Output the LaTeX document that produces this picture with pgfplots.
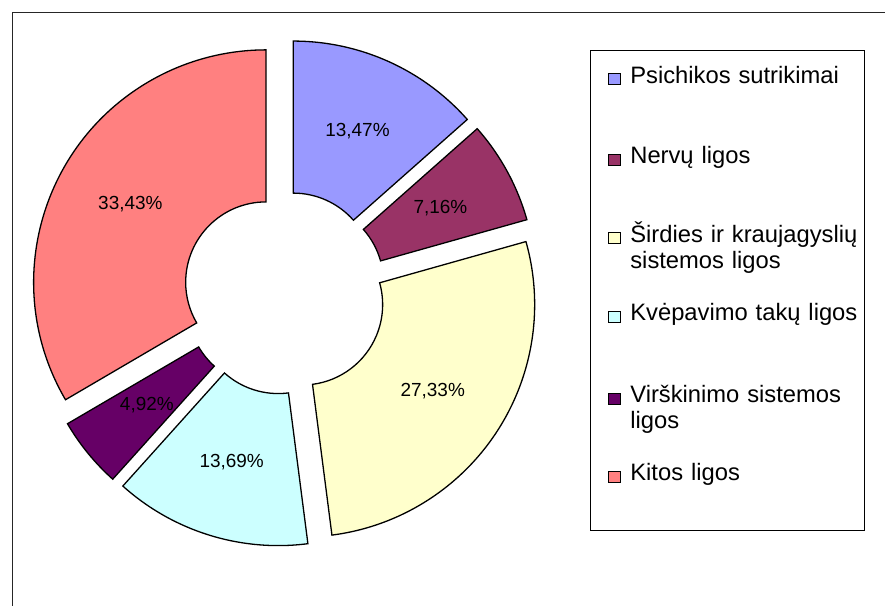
\documentclass[border=0pt]{standalone}
\usepackage{pgfplots}
\pgfplotsset{compat=1.18}
\usepackage{pgfplotstable}
\usepackage{fontspec}
\setmainfont{Liberation Sans}
\definecolor{cA}{HTML}{9999FF}
\definecolor{cB}{HTML}{993366}
\definecolor{cC}{HTML}{FFFFCC}
\definecolor{cD}{HTML}{CCFFFF}
\definecolor{cE}{HTML}{660066}
\definecolor{cF}{HTML}{FF8080}
\pgfplotstableread[col sep=comma]{
value,color
13.47,cA
7.16,cB
27.33,cC
13.69,cD
4.92,cE
33.43,cF
}\piedata
\begin{document}
\begin{tikzpicture}
\begin{axis}[x=1pt,y=1pt,xmin=0,xmax=885,ymin=0,ymax=607,scale only axis,hide axis,clip=false]
\pgfplotsextra{
  \fill[white] (axis cs:0,0) rectangle (axis cs:885,607);
  \draw[black!85, line width=0.9pt] (axis cs:10.5,0) -- (axis cs:10.5,595) -- (axis cs:885,595);
  \gdef\cumA{0}
  \foreach \i in {0,...,5}{
    \pgfplotstablegetelem{\i}{value}\of\piedata \let\v\pgfplotsretval
    \pgfplotstablegetelem{\i}{color}\of\piedata \let\col\pgfplotsretval
    \pgfmathsetmacro{\aone}{90-3.6*\cumA}
    \pgfmathsetmacro{\atwo}{90-3.6*(\cumA+\v)}
    \pgfmathsetmacro{\amid}{(\aone+\atwo)/2}
    \pgfmathsetmacro{\ccx}{283.5+21.3*cos(\amid)}
    \pgfmathsetmacro{\ccy}{313.4+21.3*sin(\amid)}
    \pgfmathsetmacro{\xo}{\ccx+233*cos(\aone)}
    \pgfmathsetmacro{\yo}{\ccy+233*sin(\aone)}
    \pgfmathsetmacro{\xin}{\ccx+80.6*cos(\atwo)}
    \pgfmathsetmacro{\yin}{\ccy+80.6*sin(\atwo)}
    \pgfmathsetmacro{\xl}{\ccx+156.8*cos(\amid)}
    \pgfmathsetmacro{\yl}{\ccy+156.8*sin(\amid)}
    \filldraw[fill=\col, draw=black, line width=1.3pt, line join=miter]
      (axis cs:\xo,\yo) arc[start angle=\aone, end angle=\atwo, radius=233pt]
      -- (axis cs:\xin,\yin) arc[start angle=\atwo, end angle=\aone, radius=80.6pt] -- cycle;
    \node[font=\fontsize{19}{22}\selectfont] at (axis cs:\xl,\yl)
      {\pgfmathprintnumber[fixed,fixed zerofill,precision=2,use comma,assume math mode=true]{\v}\%};
    \pgfmathsetmacro{\newcum}{\cumA+\v}
    \xdef\cumA{\newcum}
  }
  \draw[black, line width=0.9pt] (axis cs:590,75) rectangle (axis cs:865,556);
  \foreach \col/\txt/\by in {cA/{Psichikos sutrikimai}/523.7, cB/{Nervų ligos}/443, cC/{Širdies ir kraujagyslių\\sistemos ligos}/364.3, cD/{Kvėpavimo takų ligos}/285.3, cE/{Virškinimo sistemos\\ligos}/203.7, cF/{Kitos ligos}/125.3}{
    \pgfmathsetmacro{\sqb}{\by-1.7}
    \pgfmathsetmacro{\sqt}{\by+9.3}
    \filldraw[fill=\col, draw=black, line width=0.8pt] (axis cs:608.5,\sqb) rectangle (axis cs:620.5,\sqt);
    \node[anchor=base west, inner sep=0pt, text width=240pt, align=left, font=\fontsize{23.8}{26}\selectfont] at (axis cs:630,\by) {\txt};
  }
}
\end{axis}
\end{tikzpicture}
\end{document}
